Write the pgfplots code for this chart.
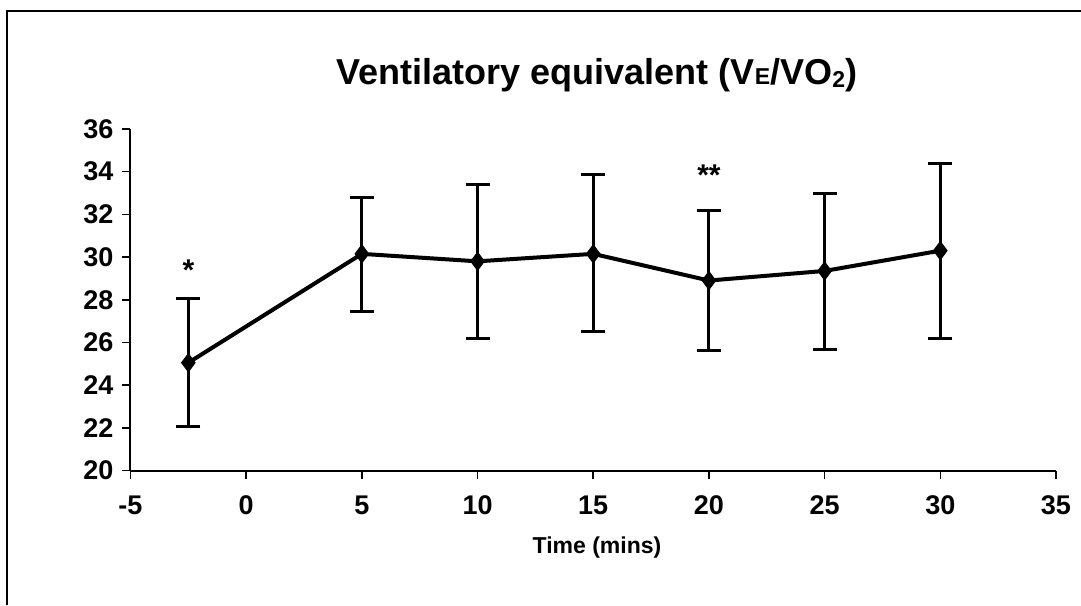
\documentclass[border=0pt]{standalone}
\usepackage{pgfplots}
\pgfplotsset{compat=1.18}
\usepackage{fontspec}
\setmainfont{Liberation Sans}
\begin{document}
\begin{tikzpicture}
\useasboundingbox (-65.25pt,-67.25pt) rectangle (475.25pt,235.25pt);
\draw[line width=1pt] (-61.75pt,-67.25pt) -- (-61.75pt,229.75pt) -- (475.25pt,229.75pt);
\begin{axis}[
  at={(0pt,0pt)}, anchor=south west,
  scale only axis, width=462.75pt, height=170.75pt,
  xmin=-5, xmax=35, ymin=20, ymax=36,
  xtick={-5,0,...,35}, ytick={20,22,...,36},
  axis lines=left, axis line style={line width=1pt, -},
  tick align=outside, major tick length=4pt,
  tick style={line width=0.8pt, black},
  /pgf/number format/assume math mode=true,
  ticklabel style={font=\fontsize{13.5}{13.5}\selectfont\bfseries},
  xticklabel style={yshift=-5pt},
  yticklabel style={xshift=-1pt},
  clip=false,
]
\addplot[black, line width=2pt, mark=diamond*, mark size=4.5pt,
  mark options={solid, fill=black, line width=0.5pt},
  error bars/.cd, y dir=both, y explicit,
  error bar style={line width=1.5pt},
  error mark options={rotate=90, mark size=6pt, line width=1.5pt}]
coordinates {
(-2.5,25.05) += (0,3.0) -= (0,3.0)
(5,30.15) += (0,2.65) -= (0,2.7)
(10,29.8) += (0,3.6) -= (0,3.6)
(15,30.15) += (0,3.7) -= (0,3.65)
(20,28.9) += (0,3.3) -= (0,3.3)
(25,29.35) += (0,3.65) -= (0,3.7)
(30,30.3) += (0,4.1) -= (0,4.1)
};
\node[font=\fontsize{15}{15}\selectfont\bfseries] at (axis cs:-2.5,29.4) {*};
\node[font=\fontsize{15}{15}\selectfont\bfseries] at (axis cs:20,33.85) {**};
\end{axis}
\node[font=\fontsize{18}{18}\selectfont\bfseries] at (233.25pt,197.75pt) {Ventilatory equivalent (V{\fontsize{11.5}{11.5}\selectfont E}/VO{\fontsize{11.5}{11.5}\selectfont\raisebox{-1.5pt}{2}})};
\node[font=\fontsize{11.5}{11.5}\selectfont\bfseries] at (233.25pt,-38.75pt) {Time (mins)};
\end{tikzpicture}
\end{document}
